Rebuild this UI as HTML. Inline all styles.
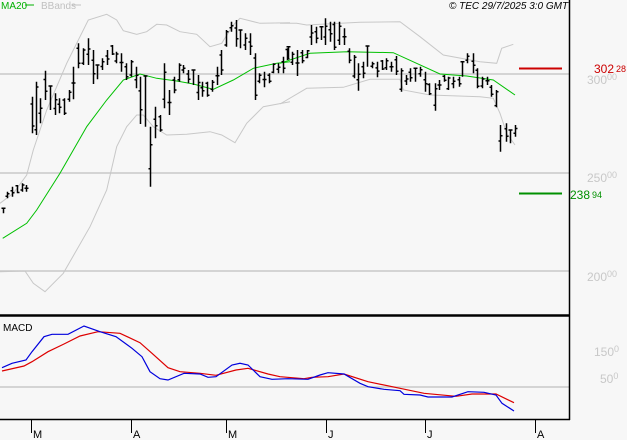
<!DOCTYPE html>
<html><head><meta charset="utf-8"><style>
body{margin:0;background:#f7f7f7}
svg{display:block;font-family:"Liberation Sans",sans-serif}
</style></head><body>
<svg id="s" width="627" height="440" viewBox="0 0 627 440" xmlns="http://www.w3.org/2000/svg">
<rect width="627" height="440" fill="#f7f7f7"/>
<g stroke="#c8c8c8" stroke-width="1.5">
<line x1="0" y1="74" x2="569" y2="74"/>
<line x1="0" y1="173" x2="569" y2="173"/>
<line x1="0" y1="271" x2="569" y2="271"/>
<line x1="0" y1="387" x2="569" y2="387"/>
</g>
<g fill="#c8c8c8" font-size="12">
<text x="587" y="84">300<tspan font-size="9" dy="-4">00</tspan></text>
<text x="587" y="182">250<tspan font-size="9" dy="-4">00</tspan></text>
<text x="587" y="281">200<tspan font-size="9" dy="-4">00</tspan></text>
<text x="594" y="356">150<tspan font-size="9" dy="-4">0</tspan></text>
<text x="600" y="383">50<tspan font-size="9" dy="-4">0</tspan></text>
</g>
<text x="594" y="73" fill="#cc0000" font-size="12">302<tspan font-size="9" dx="2" dy="-1">28</tspan></text>
<text x="570" y="199" fill="#009000" font-size="12">238<tspan font-size="9" dx="2" dy="-1">94</tspan></text>
<line x1="519" y1="68.5" x2="562" y2="68.5" stroke="#cc0000" stroke-width="2"/>
<line x1="519" y1="193.5" x2="562" y2="193.5" stroke="#009000" stroke-width="2"/>
<g id="g"></g>
<line x1="569.5" y1="0" x2="569.5" y2="420" stroke="#000" stroke-width="1.5"/>
<line x1="0" y1="315.5" x2="570" y2="315.5" stroke="#000" stroke-width="2.5"/>
<line x1="0" y1="419.5" x2="570" y2="419.5" stroke="#000" stroke-width="1.5"/>
<text x="3" y="331" font-size="10" fill="#000">MACD</text>
<text x="1" y="9" font-size="10" fill="#00b000">MA20</text>
<line x1="25" y1="5" x2="34" y2="5" stroke="#00b000" stroke-width="1"/>
<text x="41" y="9" font-size="10" fill="#c0c0c0">BBands</text>
<line x1="72" y1="5" x2="81" y2="5" stroke="#c0c0c0" stroke-width="1"/>
<text x="449" y="9" font-size="10" font-style="italic" fill="#000">© TEC 29/7/2025 3:0 GMT</text>
<g stroke="#000" stroke-width="1">
<line x1="31.5" y1="419" x2="31.5" y2="433"/><line x1="131.5" y1="419" x2="131.5" y2="433"/>
<line x1="226.5" y1="419" x2="226.5" y2="433"/><line x1="326.5" y1="419" x2="326.5" y2="433"/>
<line x1="425.5" y1="419" x2="425.5" y2="433"/><line x1="535.5" y1="419" x2="535.5" y2="433"/>
</g>
<g font-size="11" fill="#000">
<text x="33" y="438">M</text><text x="133" y="438">A</text><text x="228" y="438">M</text>
<text x="328" y="438">J</text><text x="427" y="438">J</text><text x="537" y="438">A</text>
</g>
</svg>
<script>
var g=document.getElementById('g'),NS='http://www.w3.org/2000/svg';
function pl(pts,sx,sy,ox,oy,col,w){var d=pts.map(function(p,i){return (i?'L':'M')+(ox+p[0]/sx).toFixed(1)+' '+(oy+p[1]/sy).toFixed(1)}).join('');
var e=document.createElementNS(NS,'path');e.setAttribute('d',d);e.setAttribute('fill','none');e.setAttribute('stroke',col);e.setAttribute('stroke-width',w);g.appendChild(e);}
// bands
pl([[0,610],[40,580],[80,525],[100,450],[140,330],[200,190],[265,60],[320,43],[350,60],[370,92],[410,103],[440,95],[470,73],[500,75],[540,95],[590,103],[630,140],[665,130],[700,75],[720,55],[780,70],[870,68]],3,3,0,0,'#c8c8c8',1);
pl([[0,70],[50,70],[80,75],[240,67],[360,65],[420,110],[490,165],[600,185],[650,190],[665,145],[700,133]],3,3,280,0,'#c8c8c8',1);
pl([[0,815],[75,813],[100,850],[135,875],[190,820],[270,680],[320,570],[350,440],[380,380],[410,345],[430,345],[460,380],[500,405],[560,403],[630,395],[665,405],[705,428],[740,370],[790,320],[870,305]],3,3,0,0,'#c8c8c8',1);
pl([[0,312],[80,265],[190,262],[270,238],[360,238],[370,270],[450,285],[600,290],[640,295],[660,340],[680,400],[705,435]],3,3,280,0,'#c8c8c8',1);
// MA20
pl([[8,715],[80,670],[110,630],[180,520],[260,380],[320,300],[370,240],[420,222],[470,235],[530,243],[580,252],[640,268],[700,240],[760,205],[830,190],[870,185]],3,3,0,0,'#00c000',1);
pl([[0,190],[90,160],[200,155],[340,158],[480,222],[560,228],[640,240],[705,285]],3,3,280,0,'#00c000',1);
// bars
var L=[[8,625,640],[22,575,595],[37,560,590],[50,555,580],[65,550,575],[78,555,575],[95,290,400],[108,245,405],[120,295,370],[136,212,300],[150,258,330],[165,280,345],[178,295,340],[193,295,345],[207,270,305],[220,200,298],[235,130,205],[250,145,195],[265,115,195],[278,150,252],[292,195,238],[306,175,210],[321,150,195],[335,135,165],[349,155,190],[364,160,215],[378,190,240],[392,180,230],[407,200,265],[421,230,372],[436,228,380],[450,380,560],[464,320,415],[479,345,395],[492,190,325],[507,270,345],[521,230,280],[537,190,245],[550,195,220],[564,210,250],[578,210,255],[593,225,300],[607,245,290],[621,245,290],[636,240,275],[650,200,255],[663,150,225],[678,90,140],[692,65,95],[707,60,140],[721,90,145],[736,100,150],[750,100,165],[765,160,300],[778,220,250],[792,215,262],[806,220,250],[820,190,220],[834,190,220],[848,170,220],[863,140,175]];
var R=[[22,145,180],[36,155,195],[50,150,228],[65,150,190],[80,150,175],[93,75,135],[108,80,130],[122,80,120],[136,55,135],[150,65,125],[163,65,150],[178,65,135],[192,85,135],[207,145,190],[221,165,235],[235,190,272],[249,185,235],[262,138,200],[277,185,205],[291,185,232],[305,180,210],[319,175,210],[333,185,215],[349,168,225],[364,205,275],[378,225,255],[391,205,245],[405,205,245],[420,200,230],[434,215,275],[448,250,285],[464,250,332],[477,240,270],[491,225,245],[505,230,270],[520,230,265],[536,230,260],[547,185,230],[562,160,190],[578,160,220],[592,205,265],[606,230,265],[620,230,255],[634,255,290],[649,270,322],[661,375,455],[677,370,425],[690,390,430],[705,375,410]];
var d='';
function bar(x,h,l,i){x=Math.round(x)+0.5;h/=3;l/=3;var m1=h+(l-h)*((i*37%10)/10),m2=h+(l-h)*((i*53%10)/10);
d+='M'+x+' '+h.toFixed(1)+'V'+l.toFixed(1)+'M'+(x-2)+' '+m1.toFixed(1)+'H'+x+'M'+x+' '+m2.toFixed(1)+'H'+(x+2);}
L.forEach(function(b,i){bar(b[0]/3,b[1],b[2],i)});
R.forEach(function(b,i){bar(280+b[0]/3,b[1],b[2],i+3)});
var e=document.createElementNS(NS,'path');e.setAttribute('d',d);e.setAttribute('stroke','#000');e.setAttribute('stroke-width','1.5');e.setAttribute('fill','none');g.appendChild(e);
// MACD
pl([[5,213],[60,198],[80,185],[120,155],[160,132],[200,108],[245,95],[300,100],[350,128],[380,160],[420,203],[450,215],[500,220],[540,226],[590,210],[620,205],[670,222],[700,230],[760,236],[780,232],[820,230],[860,222],[920,245],[1000,265],[1060,280],[1140,289],[1180,282],[1240,282],[1285,308]],2.5,3,0,300,'#dd0000',1.2);
pl([[5,203],[30,190],[65,180],[80,155],[110,110],[130,103],[170,103],[210,78],[250,95],[290,110],[330,145],[355,170],[375,215],[400,236],[420,240],[460,220],[500,222],[520,232],[540,230],[580,195],[600,190],[620,195],[650,230],[680,238],[720,236],[770,238],[800,225],[820,218],[860,222],[900,250],[920,260],[960,268],[1000,272],[1010,283],[1050,285],[1070,291],[1130,291],[1170,275],[1210,277],[1240,285],[1255,310],[1285,333]],2.5,3,0,300,'#0000dd',1.2);
</script>
</body></html>
